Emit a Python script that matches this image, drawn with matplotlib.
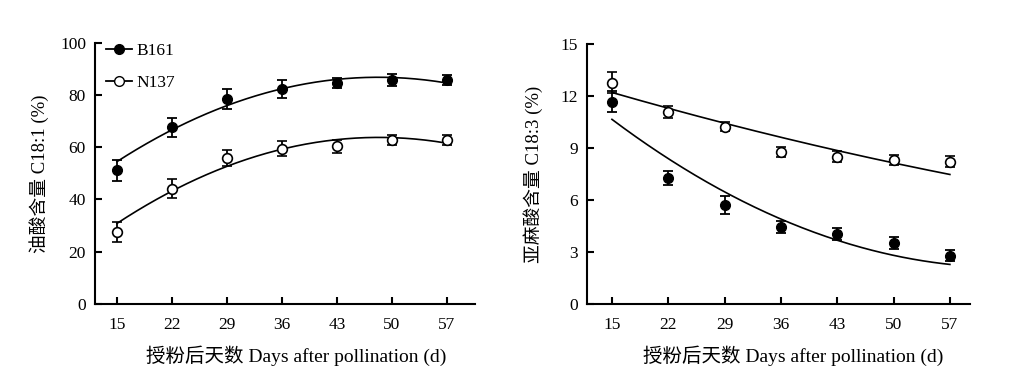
import numpy as np
import matplotlib
matplotlib.use("Agg")
import matplotlib.pyplot as plt
from matplotlib.lines import Line2D

plt.rcParams['font.family'] = ['Liberation Serif', 'Noto Sans CJK SC', 'DejaVu Sans']

days = [15, 22, 29, 36, 43, 50, 57]
series = ["B161", "N137"]

# Oleic acid C18:1 (%)
oleic_b161 = [51.1, 67.6, 78.4, 82.2, 84.5, 85.8, 85.8]
oleic_b161_err = [4.0, 3.6, 3.8, 3.4, 1.9, 2.4, 2.0]
oleic_n137 = [27.7, 44.2, 55.8, 59.4, 60.3, 62.7, 62.7]
oleic_n137_err = [3.8, 3.5, 3.1, 2.9, 2.6, 1.9, 1.9]

# Linolenic acid C18:3 (%)
linol_b161 = [11.67, 7.25, 5.71, 4.42, 4.04, 3.5, 2.79]
linol_b161_err = [0.6, 0.4, 0.5, 0.35, 0.35, 0.35, 0.3]
linol_n137 = [12.77, 11.1, 10.23, 8.77, 8.5, 8.31, 8.21]
linol_n137_err = [0.6, 0.35, 0.25, 0.3, 0.3, 0.3, 0.3]

# Trend-line coefficients: y = c0 + c1*t + c2*(t^2-4), t=(day-36)/7
fit_oleic_b161 = [76.66, 5.014, -1.426]
fit_oleic_n137 = [53.44, 5.118, -1.449]
fit_linol_b161 = [5.597, -1.395, 0.1742]
fit_linol_n137 = [9.716, -0.7886, 0.0245]

y_ticks_left = [0, 20, 40, 60, 80, 100]
y_ticks_right = [0, 3, 6, 9, 12, 15]
ylabel_left = "油酸含量 C18:1 (%)"
ylabel_right = "亚麻酸含量 C18:3 (%)"
xlabel = "授粉后天数 Days after pollination (d)"

FS = 12.5
FS_X = 14
FS_Y = 13.5


def trend(coef, x):
    t = (np.asarray(x, dtype=float) - 36.0) / 7.0
    return coef[0] + coef[1] * t + coef[2] * (t ** 2 - 4)


fig = plt.figure(figsize=(10.34, 3.79), dpi=100)
axL = fig.add_axes([95 / 1034, 75 / 379, 380 / 1034, 261.3 / 379])
axR = fig.add_axes([587 / 1034, 75 / 379, 383 / 1034, 260 / 379])


def draw(ax, yb, eb, yn, en, fb, fn, xlim, ylim, yticks, ylabel, ylab_x, xlab_x):
    xs = np.linspace(days[0], days[-1], 200)
    ax.plot(xs, trend(fb, xs), color='black', lw=1.2, zorder=2)
    ax.plot(xs, trend(fn, xs), color='black', lw=1.2, zorder=2)
    ax.errorbar(days, yb, yerr=eb, fmt='o', ms=7, mfc='black', mec='black',
                ecolor='black', elinewidth=1.3, capsize=3.5, capthick=1.3, zorder=3)
    ax.errorbar(days, yn, yerr=en, fmt='o', ms=7, mfc='white', mec='black', mew=1.2,
                ecolor='black', elinewidth=1.3, capsize=3.5, capthick=1.3, zorder=3)
    ax.set_xlim(*xlim)
    ax.set_ylim(*ylim)
    ax.set_xticks(days)
    ax.set_yticks(yticks)
    for s in ['top', 'right']:
        ax.spines[s].set_visible(False)
    for s in ['left', 'bottom']:
        ax.spines[s].set_linewidth(1.5)
    ax.tick_params(direction='in', length=5, width=1.5, labelsize=FS)
    ax.tick_params(axis='y', pad=6.5)
    ax.tick_params(axis='x', pad=9.5)
    ax.set_ylabel(ylabel, fontsize=FS_Y)
    ax.yaxis.set_label_coords(ylab_x, 0.5)
    ax.set_xlabel(xlabel, fontsize=FS_X)
    ax.xaxis.set_label_coords(xlab_x, -0.16)


draw(axL, oleic_b161, oleic_b161_err, oleic_n137, oleic_n137_err,
     fit_oleic_b161, fit_oleic_n137, (12.2, 60.6), (0, 100), y_ticks_left,
     ylabel_left, -0.122, 0.53)
draw(axR, linol_b161, linol_b161_err, linol_n137, linol_n137_err,
     fit_linol_b161, fit_linol_n137, (11.9, 59.5), (0, 15), y_ticks_right,
     ylabel_right, -0.116, 0.538)

handles = [
    Line2D([], [], color='black', lw=1.3, marker='o', ms=7, mfc='black', mec='black'),
    Line2D([], [], color='black', lw=1.3, marker='o', ms=7, mfc='white', mec='black'),
]
axL.legend(handles, series, loc='upper left', bbox_to_anchor=(0.03, 1.0),
           frameon=False, fontsize=FS, handlelength=1.5, handletextpad=0.25,
           labelspacing=0.9, borderpad=0, borderaxespad=0)

fig.savefig("out.png", dpi=100)
